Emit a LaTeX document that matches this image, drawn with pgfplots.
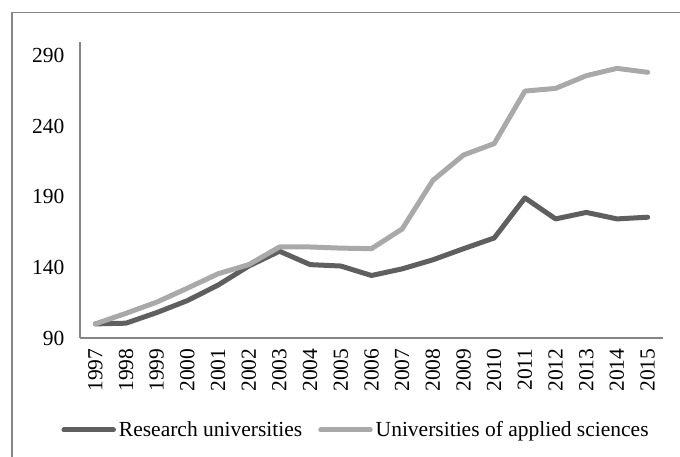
\documentclass[border=0pt]{standalone}
\usepackage{fontspec}
\setmainfont{Liberation Serif}
\usepackage{pgfplots}
\pgfplotsset{compat=1.18}
\definecolor{darkline}{HTML}{5F5F5F}
\definecolor{lightline}{HTML}{A9A9A9}
\definecolor{axisgray}{HTML}{868686}
\begin{document}
\begin{tikzpicture}[x=1pt,y=1pt]
\useasboundingbox (0,0) rectangle (680,457);
\begin{axis}[
  at={(80pt,119pt)}, anchor=south west,
  scale only axis, width=583pt, height=296.3pt,
  xmin=1996.5, xmax=2015.5, ymin=90, ymax=300,
  axis lines*=left,
  axis line style={-, color=axisgray, line width=1.1pt},
  xtick={1997,...,2015}, ytick={90,140,190,240,290},
  major tick length=0pt,
  /pgf/number format/assume math mode=true,
  /pgf/number format/1000 sep={},
  tick label style={font=\fontsize{21.5}{25}\selectfont, text=black},
  yticklabel style={xshift=-12pt},
  xticklabel style={yshift=-7pt, rotate=90, anchor=east},
  legend columns=2,
  legend cell align=left,
  legend style={draw=none, fill=none, inner sep=0pt, outer sep=0pt,
    at={(axis description cs:-0.0318,-0.3105)}, anchor=west,
    font=\fontsize{21.5}{25}\selectfont,
    nodes={inner sep=0pt},
    /tikz/every odd column/.append style={column sep=3pt},
    /tikz/every even column/.append style={column sep=16pt}},
  legend image code/.code={\draw[#1, line width=5pt, line cap=round] (0pt,0pt) -- (49.5pt,0pt);},
  every axis plot/.append style={line width=5pt, line cap=round, line join=round, mark=none},
]
\addplot[darkline] coordinates {
(1997,100) (1998,100.5) (1999,108) (2000,116.5) (2001,127.5) (2002,141)
(2003,151.5) (2004,142) (2005,141) (2006,134.3) (2007,139) (2008,145.4)
(2009,153.3) (2010,160.9) (2011,189.3) (2012,174.4) (2013,179) (2014,174.4) (2015,175.6)};
\addlegendentry{Research universities}
\addplot[lightline] coordinates {
(1997,100) (1998,107.5) (1999,115.4) (2000,125.3) (2001,135.5) (2002,142)
(2003,154.5) (2004,154.5) (2005,153.7) (2006,153.3) (2007,167.3) (2008,201.7)
(2009,219.7) (2010,227.8) (2011,265) (2012,266.9) (2013,275.9) (2014,281.1) (2015,278.3)};
\addlegendentry{Universities of applied sciences}
\end{axis}
\draw[axisgray, line width=1.1pt] (12,0) -- (12,444.3) -- (680,444.3);
\end{tikzpicture}
\end{document}
